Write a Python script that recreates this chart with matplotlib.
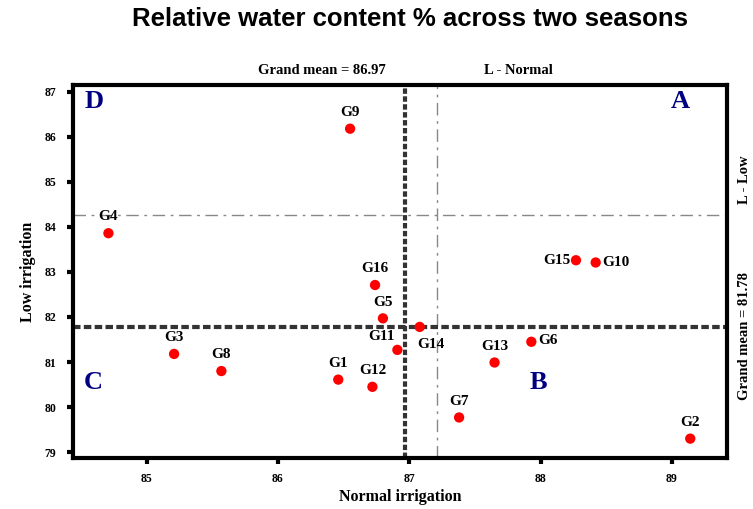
import matplotlib
matplotlib.use("Agg")
import matplotlib.pyplot as plt

genotypes = ["G1", "G2", "G3", "G4", "G5", "G6", "G7", "G8",
             "G9", "G10", "G11", "G12", "G13", "G14", "G15", "G16"]
normal = [86.46, 89.14, 85.21, 84.71, 86.80, 87.93, 87.38, 85.57,
          86.55, 88.42, 86.91, 86.72, 87.65, 87.08, 88.27, 86.74]
low = [80.61, 79.30, 81.18, 83.86, 81.97, 81.45, 79.77, 80.80,
       86.18, 83.21, 81.27, 80.45, 80.99, 81.78, 83.26, 82.71]
grand_mean_normal = 86.97
grand_mean_low = 81.78
l_normal = 87.21
l_low = 84.26
x_ticks = [85, 86, 87, 88, 89]
y_ticks = [79, 80, 81, 82, 83, 84, 85, 86, 87]

# label offsets in points (dx, dy, ha, va)
label_pos = {
    "G10": (5, 0, "left", "center"),
    "G15": (-4, 0, "right", "center"),
    "G6": (5, 1, "left", "center"),
    "G14": (-2, -8, "left", "top"),
    "G11": (-2, 5, "right", "bottom"),
}

serif = ["Liberation Serif", "DejaVu Serif"]

fig = plt.figure(figsize=(7.53, 5.09), dpi=100)
ax = fig.add_axes([0.0969, 0.1002, 0.8686, 0.7328])

ax.set_xlim(84.44, 89.42)
ax.set_ylim(78.87, 87.15)

ax.axvline(grand_mean_normal, color="#333333", lw=3, ls=(0, (1.3, 0.6)), zorder=2)
ax.axhline(grand_mean_low, color="#333333", lw=3, ls=(0, (1.8, 0.8)), zorder=2)
ax.axvline(l_normal, color="#888888", lw=1, ls=(0, (9, 4, 2, 4)), zorder=1)
ax.axhline(l_low, color="#888888", lw=1, ls=(0, (9, 4, 2, 4)), zorder=1)

ax.scatter(normal, low, s=55, color="#ff0000", zorder=3, edgecolors="none")

for g, x, y in zip(genotypes, normal, low):
    dx, dy, ha, va = label_pos.get(g, (0, 7, "center", "bottom"))
    ax.annotate(g, (x, y), xytext=(dx, dy), textcoords="offset points",
                ha=ha, va=va, fontsize=11, fontweight="bold", family=serif)

for s in ax.spines.values():
    s.set_linewidth(3)
ax.set_xticks(x_ticks)
ax.set_yticks(y_ticks)
ax.tick_params(width=3, length=4, direction="out", labelsize=8.5)
for lab in ax.get_xticklabels() + ax.get_yticklabels():
    lab.set_fontfamily(serif)
    lab.set_fontweight("bold")
ax.tick_params(axis="x", pad=7)
ax.tick_params(axis="y", pad=8)

ax.set_xlabel("Normal irrigation", fontsize=11.5, fontweight="bold", family=serif, labelpad=3)
ax.set_ylabel("Low irrigation", fontsize=11.5, fontweight="bold", family=serif, labelpad=6)

quad_kw = dict(fontsize=19, fontweight="bold", color="#000080", family=serif,
               transform=ax.transAxes, va="center", ha="center")
ax.text(0.033, 0.955, "D", **quad_kw)
ax.text(0.928, 0.955, "A", **quad_kw)
ax.text(0.031, 0.202, "C", **quad_kw)
ax.text(0.711, 0.202, "B", **quad_kw)

fig.text(322 / 753, 1 - 71 / 509, "Grand mean = 86.97", ha="center", va="center",
         fontsize=10.5, fontweight="bold", family=serif)
fig.text(518 / 753, 1 - 71 / 509, "L - Normal", ha="center", va="center",
         fontsize=10.5, fontweight="bold", family=serif)
fig.text(744 / 753, 1 - 180 / 509, "L - Low", ha="center", va="center", rotation=90,
         fontsize=10.5, fontweight="bold", family=serif)
fig.text(744 / 753, 1 - 336 / 509, "Grand mean = 81.78", ha="center", va="center",
         rotation=90, fontsize=10.5, fontweight="bold", family=serif)

fig.text(410 / 753, 1 - 19 / 509, "Relative water content % across two seasons",
         ha="center", va="center", fontsize=18.5, fontweight="bold",
         family=["Liberation Sans", "DejaVu Sans"])

fig.savefig("out.png", dpi=100)
